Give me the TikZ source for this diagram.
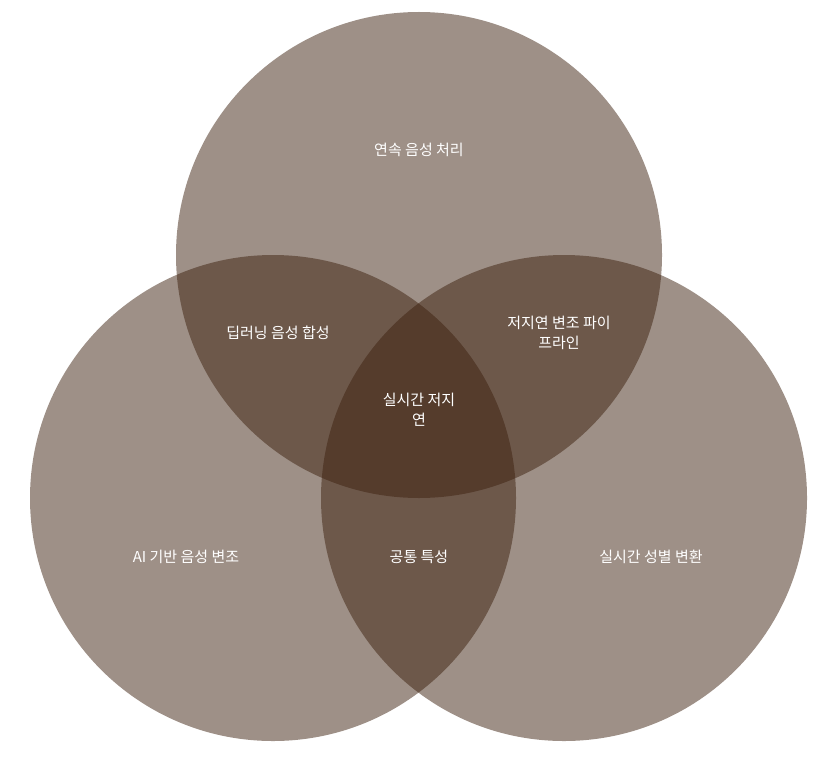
\documentclass[tikz,border=0pt]{standalone}
\usepackage{fontspec}
\newfontfamily\kr{Noto Sans CJK KR}
\definecolor{vbase}{RGB}{61,33,15}
\begin{document}
\begin{tikzpicture}[x=1pt,y=-1pt,
  circ/.style={fill=vbase,fill opacity=0.5,draw=none},
  lbl/.style={text=white,font=\kr\fontsize{15}{20}\selectfont,align=center}]
\useasboundingbox (0,0) rectangle (834,765);
\fill[circ] (419,255) circle (243);
\fill[circ] (273,498) circle (243);
\fill[circ] (564,498) circle (243);
\node[lbl] (a) at (419,150) {연속 음성 처리};
\node[lbl] (b) at (278,333) {딥러닝 음성 합성};
\node[lbl] (c) at (559,333) {저지연 변조 파이\\프라인};
\node[lbl] (d) at (419,410) {실시간 저지\\연};
\node[lbl] (e) at (186,557) {AI 기반 음성 변조};
\node[lbl] (f) at (419,557) {공통 특성};
\node[lbl] (g) at (651,557) {실시간 성별 변환};
\end{tikzpicture}
\end{document}
